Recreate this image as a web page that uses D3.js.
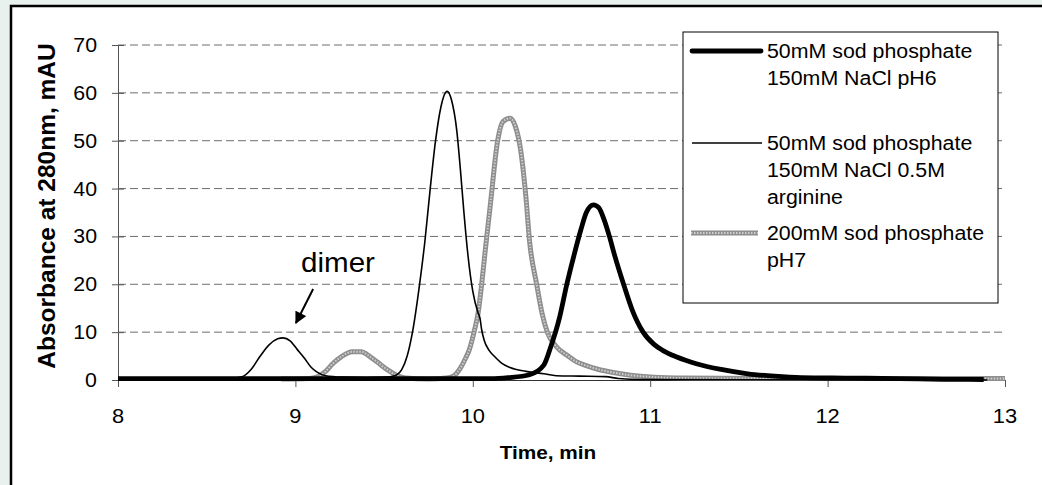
<!DOCTYPE html>
<meta charset="utf-8">
<title>Absorbance at 280nm</title>
<style>
  body { margin: 0; background: #e9f1ee; }
  svg { display: block; }
  text { font-family: "Liberation Sans", Arial, sans-serif; fill: #000; }
</style>
<body>
<script src="https://cdn.jsdelivr.net/npm/d3@7"></script>
<script>

// series as [time (min), absorbance (mAU)]
var thickSeries = [
  [8.0,0.3],[9.5,0.3],[10.1,0.3],[10.2,0.5],[10.32,1.1],[10.4,3.1],[10.44,7],[10.49,13.2],
  [10.53,20],[10.57,26],[10.61,31.5],[10.64,35],[10.68,36.6],[10.71,36],[10.74,33.5],[10.77,30],
  [10.8,26],[10.85,20],[10.9,14.5],[10.96,10],[11.02,7.5],[11.07,6.2],[11.15,4.8],[11.26,3.4],
  [11.4,2.2],[11.55,1.3],[11.7,0.8],[11.85,0.5],[12.1,0.4],[12.4,0.3],[12.65,0.15],[12.88,0.1]
];
var thinSeries = [
  [8.0,0.2],[8.6,0.2],[8.7,0.7],[8.75,2.2],[8.8,4.9],[8.85,7.3],[8.9,8.6],[8.93,8.8],[8.97,8.2],
  [9.01,6.4],[9.05,4.6],[9.09,2.6],[9.12,1.7],[9.17,0.9],[9.27,0.6],[9.4,0.5],[9.5,0.6],[9.56,0.9],
  [9.6,2.2],[9.63,5],[9.66,10],[9.7,20],[9.73,29],[9.76,40],[9.79,50],[9.82,57],[9.855,60.3],
  [9.88,58.5],[9.91,52],[9.93,44],[9.95,35],[9.97,27],[10.0,18.5],[10.03,14],[10.04,13],
  [10.05,10.5],[10.065,8.2],[10.09,6.3],[10.12,5],[10.16,3.6],[10.21,2.6],[10.3,1.8],[10.4,1.3],
  [10.47,0.9],[10.6,0.8],[10.75,0.7],[10.82,0.3],[10.95,0.1],[12.9,0]
];
var greySeries = [
  [8.92,0.2],[9.0,0.2],[9.08,0.3],[9.12,0.6],[9.17,1.8],[9.21,3.4],[9.26,4.9],[9.32,5.9],[9.37,5.9],
  [9.42,4.9],[9.46,3.8],[9.52,2.1],[9.57,1],[9.62,0.4],[9.75,0.2],[9.85,0.4],[9.89,0.8],[9.93,2.5],
  [9.96,4.6],[9.98,6.3],[10.01,10.5],[10.03,14],[10.05,20],[10.07,27],[10.1,37],[10.14,50],
  [10.17,54],[10.21,54.7],[10.24,53],[10.27,48],[10.3,38],[10.32,29],[10.36,20],[10.39,14],
  [10.42,10],[10.47,7],[10.53,5.2],[10.58,3.9],[10.64,3],[10.7,2.3],[10.8,1.5],[10.89,1],
  [11.02,0.6],[11.2,0.4],[11.6,0.3],[12.5,0.3],[13.0,0.3]
];

var xTicks = [8, 9, 10, 11, 12, 13];
var yTicks = [0, 10, 20, 30, 40, 50, 60, 70];

var legendLabels = [
  ["50mM sod phosphate", "150mM NaCl pH6"],
  ["50mM sod phosphate", "150mM NaCl 0.5M", "arginine"],
  ["200mM sod phosphate", "pH7"]
];

// dimer arrow: tail and tip, in data units
var dimerLabel = { t: 9.24, v: 22.6, text: "dimer" };
var dimerArrow = [[9.10, 19.0], [9.003, 11.9]];

var width = 1042, height = 485;
var SX = 1.095; // the picture is a bit wider than it is tall

var x = d3.scaleLinear().domain([8, 13]).range([118, 1005]);
var y = d3.scaleLinear().domain([0, 70]).range([380, 45]);

var svg = d3.select("body").append("svg")
    .attr("width", width)
    .attr("height", height);

// white chart area with black frame
svg.append("rect")
    .attr("x", 11).attr("y", 6)
    .attr("width", width + 20).attr("height", height + 20)
    .attr("fill", "#fff")
    .attr("stroke", "#000")
    .attr("stroke-width", 2.5);

function txt(g, px, py, s, size, bold, anchor) {
  return g.append("text")
      .attr("transform", "translate(" + px + "," + py + ") scale(" + SX + ",1)")
      .attr("text-anchor", anchor || "start")
      .style("font-size", size + "px")
      .style("font-weight", bold ? "bold" : "normal")
      .text(s);
}

// grid
svg.append("g").selectAll("line")
  .data(yTicks.filter(function(d) { return d > 0; }))
  .join("line")
    .attr("x1", x(8)).attr("x2", x(13))
    .attr("y1", function(d) { return y(d); })
    .attr("y2", function(d) { return y(d); })
    .attr("stroke", "#6e6e6e")
    .attr("stroke-dasharray", "8,4");

// y axis with crossing ticks
var yAxis = svg.append("g")
    .attr("transform", "translate(" + x(8) + ",0)")
    .call(d3.axisLeft(y).tickValues(yTicks).tickSize(6).tickFormat(""));
yAxis.select(".domain").attr("stroke", "#555");
yAxis.selectAll(".tick line").attr("x1", 6).attr("stroke", "#555");
yTicks.forEach(function(d) {
  txt(svg, 97, y(d) + 7, d, 19.5, false, "end");
});

// x axis
var xAxis = svg.append("g")
    .attr("transform", "translate(0," + y(0) + ")")
    .call(d3.axisBottom(x).tickValues(xTicks).tickSize(7).tickFormat(""));
xAxis.select(".domain").attr("stroke", "#333");
xAxis.selectAll(".tick line").attr("stroke", "#555");
xTicks.forEach(function(d) {
  txt(svg, x(d), 423, d, 20, false, "middle");
});

txt(svg, 548, 459, "Time, min", 19, true, "middle");
svg.append("text")
    .attr("transform", "translate(55,206) rotate(-90)")
    .attr("text-anchor", "middle")
    .style("font-size", "24.5px")
    .style("font-weight", "bold")
    .text("Absorbance at 280nm, mAU");

// curves
var line = d3.line()
    .x(function(d) { return x(d[0]); })
    .y(function(d) { return y(d[1]); })
    .curve(d3.curveMonotoneX);

function greyLine(g, d) {
  g.append("path").attr("d", d)
      .attr("fill", "none").attr("stroke", "#8e8e8e")
      .attr("stroke-width", 5).attr("stroke-linejoin", "round");
  g.append("path").attr("d", d)
      .attr("fill", "none").attr("stroke", "#cfcfcf")
      .attr("stroke-width", 2).attr("stroke-dasharray", "1.5,1.5");
}

greyLine(svg, line(greySeries));

svg.append("path")
    .attr("d", line(thickSeries))
    .attr("fill", "none")
    .attr("stroke", "#000")
    .attr("stroke-width", 4.8)
    .attr("stroke-linejoin", "round");

svg.append("path")
    .attr("d", line(thinSeries))
    .attr("fill", "none")
    .attr("stroke", "#000")
    .attr("stroke-width", 1.6);

// dimer annotation
svg.append("defs").append("marker")
    .attr("id", "head")
    .attr("viewBox", "0 0 10 10")
    .attr("refX", 9).attr("refY", 5)
    .attr("markerWidth", 6.5).attr("markerHeight", 6)
    .attr("markerUnits", "strokeWidth")
    .attr("orient", "auto")
  .append("path")
    .attr("d", "M0,0L10,5L0,10Z")
    .attr("fill", "#000");

svg.append("line")
    .attr("x1", x(dimerArrow[0][0])).attr("y1", y(dimerArrow[0][1]))
    .attr("x2", x(dimerArrow[1][0])).attr("y2", y(dimerArrow[1][1]))
    .attr("stroke", "#000")
    .attr("stroke-width", 2)
    .attr("marker-end", "url(#head)");

txt(svg, x(dimerLabel.t), y(dimerLabel.v), dimerLabel.text, 27, false, "middle");

// legend
var lg = svg.append("g");
lg.append("rect")
    .attr("x", 683).attr("y", 32)
    .attr("width", 315).attr("height", 271)
    .attr("fill", "#fff")
    .attr("stroke", "#000")
    .attr("stroke-width", 1);

var legendY = [51, 143, 233];
var lineH = 27;

lg.append("line")
    .attr("x1", 692).attr("x2", 761)
    .attr("y1", legendY[0]).attr("y2", legendY[0])
    .attr("stroke", "#000").attr("stroke-width", 4.8).attr("stroke-linecap", "round");
lg.append("line")
    .attr("x1", 692).attr("x2", 762)
    .attr("y1", legendY[1]).attr("y2", legendY[1])
    .attr("stroke", "#000").attr("stroke-width", 1.6);
greyLine(lg, "M691," + legendY[2] + "H758");

legendLabels.forEach(function(lines, i) {
  lines.forEach(function(s, j) {
    txt(lg, 767, legendY[i] + j * lineH + 7, s, 19.5, false, "start");
  });
});

</script>
</body>
